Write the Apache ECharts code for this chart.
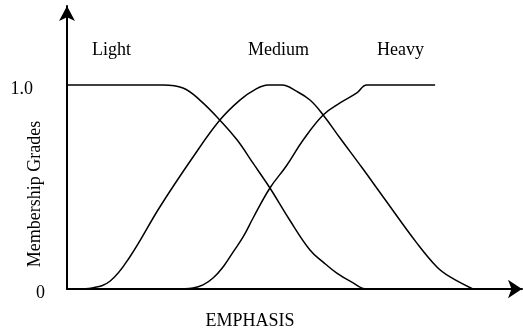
<!DOCTYPE html>
<html>
<head>
<meta charset="utf-8">
<script src="https://cdn.jsdelivr.net/npm/echarts@6/dist/echarts.min.js"></script>
<style>
  html, body { margin: 0; padding: 0; background: #fff; }
  #chart { width: 523px; height: 331px; }
</style>
</head>
<body>
<div id="chart"></div>
<script>
// membership curves, [emphasis, grade]
const lightPoints = [
  [0, 1], [21.1, 1], [25.5, 0.985], [29.2, 0.926], [33.6, 0.828], [37.4, 0.730],
  [41.0, 0.613], [44.6, 0.495], [48.8, 0.343], [53.4, 0.191], [56.3, 0.132],
  [59.3, 0.078], [62.6, 0.034], [65.9, 0], [80.9, 0]
];
const mediumPoints = [
  [2.2, 0], [5.5, 0.005], [9.5, 0.039], [13.8, 0.157], [20.4, 0.402], [27.7, 0.647],
  [33.6, 0.828], [38.0, 0.926], [41.5, 0.980], [44.2, 1], [47.3, 1], [50.3, 0.971],
  [53.4, 0.926], [56.3, 0.853], [60.0, 0.740], [64.9, 0.593], [69.5, 0.451],
  [76.9, 0.225], [81.3, 0.108], [84.2, 0.059], [89.2, 0]
];
const heavyPoints = [
  [23.7, 0], [27.7, 0.005], [29.9, 0.020], [32.1, 0.054], [34.3, 0.108], [36.5, 0.181],
  [38.7, 0.255], [40.9, 0.348], [44.6, 0.495], [48.2, 0.603], [51.9, 0.730],
  [56.3, 0.853], [60.0, 0.912], [63.7, 0.961], [65.9, 1], [80.9, 1]
];
const seriesNames = ['Light', 'Medium', 'Heavy'];
const yTickLabels = { 0: '0', 1: '1.0' };

const font = "'Liberation Serif', 'Times New Roman', serif";
const myChart = echarts.init(document.getElementById('chart'));

const curve = (name, data) => ({
  name: name,
  type: 'line',
  data: data,
  smooth: 0.4,
  symbol: 'none',
  lineStyle: { color: '#000', width: 1.5 },
  silent: true
});

myChart.setOption({
  animation: false,
  grid: { left: 67, right: 1, top: 6, bottom: 42 },
  xAxis: {
    type: 'value',
    min: 0,
    max: 100,
    axisLine: { lineStyle: { color: '#000', width: 2 }, symbol: ['none', 'arrow'], symbolSize: [14, 14] },
    axisTick: { show: false },
    axisLabel: { show: false },
    splitLine: { show: false }
  },
  yAxis: {
    type: 'value',
    min: 0,
    max: 1.387,
    interval: 1,
    axisLine: { show: true, lineStyle: { color: '#000', width: 2 }, symbol: ['none', 'arrow'], symbolSize: [12, 15] },
    axisTick: { show: false },
    splitLine: { show: false },
    axisLabel: {
      showMaxLabel: false,
      margin: 22,
      formatter: v => v === 1 ? '{a|' + yTickLabels[1] + '}' : v === 0 ? '{b|' + yTickLabels[0] + '}' : '',
      rich: {
        a: { fontFamily: font, fontSize: 18, color: '#000', padding: [8, 12, 0, 0] },
        b: { fontFamily: font, fontSize: 18, color: '#000', padding: [8, 0, 0, 0] }
      }
    }
  },
  graphic: [
    { type: 'text', left: 92, top: 41, style: { text: seriesNames[0], font: '18px ' + font, fill: '#000' } },
    { type: 'text', x: 278.5, y: 41, style: { text: seriesNames[1], font: '18px ' + font, fill: '#000', align: 'center' } },
    { type: 'text', left: 377, top: 41, style: { text: seriesNames[2], font: '18px ' + font, fill: '#000' } },
    { type: 'text', x: 250, y: 312, style: { text: 'EMPHASIS', font: '18px ' + font, fill: '#000', align: 'center' } },
    { type: 'text', x: 35, y: 194, rotation: Math.PI / 2,
      style: { text: 'Membership Grades', font: '18px ' + font, fill: '#000', align: 'center', verticalAlign: 'middle' } }
  ],
  series: [
    curve(seriesNames[0], lightPoints),
    curve(seriesNames[1], mediumPoints),
    curve(seriesNames[2], heavyPoints)
  ]
});
</script>
</body>
</html>
